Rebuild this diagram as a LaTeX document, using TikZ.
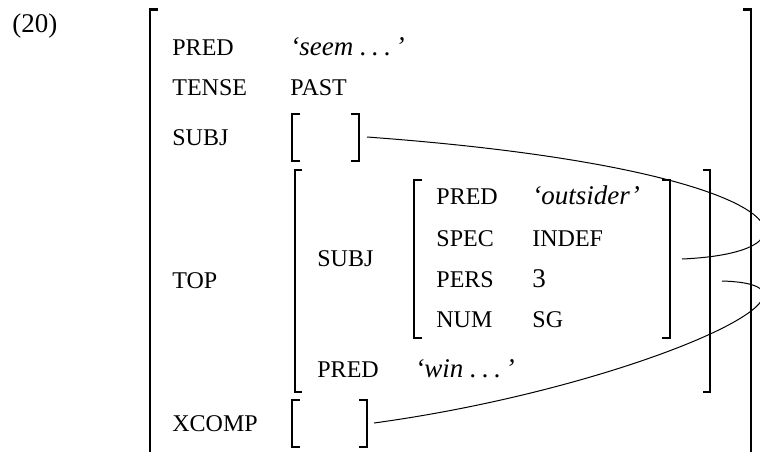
\documentclass[tikz,border=0pt]{standalone}
\usepackage{fontspec}
\setmainfont{Liberation Serif}
\newcommand{\sdots}{.\kern0.2em.\kern0.2em.}
\tikzset{
  feat/.style={anchor=base west, inner sep=0pt, font=\fontsize{12}{14}\selectfont},
  form/.style={anchor=base west, inner sep=0pt, font=\fontsize{13.5}{16}\selectfont},
  brk/.style={line width=0.75pt},
  emptybrk/.style={line width=0.6pt},
  bigbrk/.style={line width=1.1pt},
  link/.style={line width=0.5pt}
}
\begin{document}
\begin{tikzpicture}[x=0.5pt,y=-0.5pt]
            \clip (0,0) rectangle (760,451);
            % outer f-structure
            \draw[bigbrk] (158, 9.5) -- (150, 9.5) -- (150,470);
            \draw[bigbrk] (743, 9.5) -- (751, 9.5) -- (751,470);
            \node[form] (exnum)    at ( 12, 32) {(20)};
            \node[feat] (pred)     at (172, 55) {PRED};
            \node[form] (predval)  at (290, 55) {\textit{`seem \sdots\,'}};
            \node[feat] (tense)    at (172, 95) {TENSE};
            \node[feat] (tenseval) at (290, 95) {PAST};
            \node[feat] (subj)     at (172,145) {SUBJ};
            \node[feat] (top)      at (172,288) {TOP};
            \node[feat] (xcomp)    at (172,431) {XCOMP};
            % empty SUBJ and XCOMP
            \draw[emptybrk] (300,114) -- (292,114) -- (292,161) -- (300,161);
            \draw[emptybrk] (351,114) -- (359,114) -- (359,161) -- (351,161);
            \draw[emptybrk] (300,400) -- (292,400) -- (292,447) -- (300,447);
            \draw[emptybrk] (359,400) -- (367,400) -- (367,447) -- (359,447);
            % TOP
            \draw[brk] (302,170) -- (295,170) -- (295,392) -- (302,392);
            \draw[brk] (703,170) -- (710,170) -- (710,392) -- (703,392);
            \node[feat] (topsubj)  at (317,266) {SUBJ};
            \node[feat] (toppred)  at (317,377) {PRED};
            \node[form] (toppredval) at (415,377) {\textit{`win \sdots\,'}};
            % SUBJ inside TOP
            \draw[brk] (422,180) -- (414,180) -- (414,338) -- (422,338);
            \draw[brk] (662,180) -- (670,180) -- (670,338) -- (662,338);
            \node[feat] (spred)    at (436,204) {PRED};
            \node[form] (spredval) at (532,204) {\textit{`outsider'}};
            \node[feat] (spec)     at (436,246) {SPEC};
            \node[feat] (specval)  at (532,246) {INDEF};
            \node[feat] (pers)     at (436,287) {PERS};
            \node[form] (persval)  at (532,287) {3};
            \node[feat] (num)      at (436,327) {NUM};
            \node[feat] (numval)   at (532,327) {SG};
            % structure sharing
            \coordinate (subjend)    at (367,137);
            \coordinate (topsubjend) at (682,259);
            \coordinate (xcompend)   at (374,423);
            \coordinate (topend)     at (722,281);
            \draw[link] (subjend)  .. controls (790,168) and (840,252) .. (topsubjend);
            \draw[link] (xcompend) .. controls (630,388) and (860,285) .. (topend);
            \end{tikzpicture}
\end{document}
